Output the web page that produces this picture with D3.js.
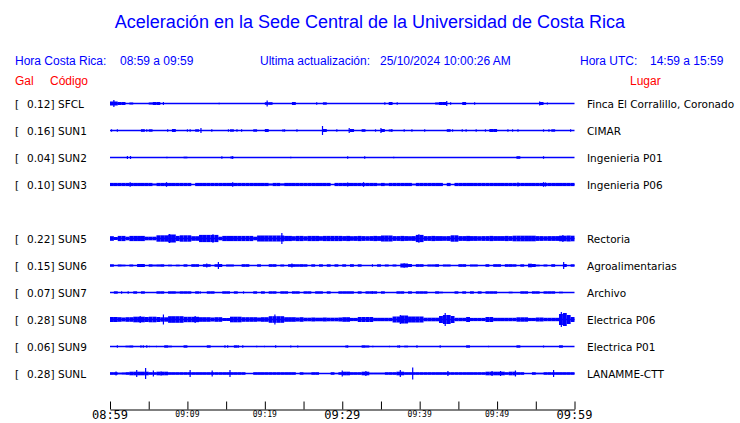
<!DOCTYPE html>
<html><head><meta charset="utf-8">
<script src="https://cdn.jsdelivr.net/npm/d3@7"></script>
<style>body{margin:0;background:#fff}svg{display:block}</style>
</head><body><svg id="c" width="740" height="423"></svg>
<script>
// ---- data ----
const codes  = ["SFCL","SUN1","SUN2","SUN3","SUN5","SUN6","SUN7","SUN8","SUN9","SUNL"];
const gal    = [0.12, 0.16, 0.04, 0.10, 0.22, 0.15, 0.07, 0.28, 0.06, 0.28];
const places = ["Finca El Corralillo, Coronado","CIMAR","Ingenieria P01","Ingenieria P06",
                "Rectoria","Agroalimentarias","Archivo","Electrica P06","Electrica P01","LANAMME-CTT"];
const rowSlot = [0,1,2,3,5,6,7,8,9,10];   // row 4 (SUN4) has no trace
const tickMinutes = [0,5,10,15,20,25,30,35,40,45,50,55,60];
const tickLabels  = ["08:59","","09:09","","09:19","","09:29","","09:39","","09:49","","09:59"];
const majorTicks  = [0,30,60];

// envelope half-amplitude per 30 s window (120 windows = 60 min)
const env_SFCL = [2,2,1.5,1.5,0,1,0,0,0,0, 1,1.5,1.5,0,0,0,0,0,0,0,
 0,0,0,0,0,0,0,0,0,0, 0,0,0,0,0,0,0,0,0,0,
 1.3,1.3,0,0,0,0,0,1.5,0,0, 0,0,0,0,0,1.2,0,0,0,0,
 0,0,0,0,0,0,0,0,0,0, 0,0,1.5,0,0,0,0,0,0,0,
 0,0,0,0,1,1.5,1.5,0,0,0, 0,1.5,0,0,0,0,0,0,0,0,
 0,0,0,0,0,0,0,0,0,0, 0,1.5,0,0,0,0,0,0,0,0];
const env_SUN1 = [0,0,0,0,0,0,0,0,1.3,0, 1.2,0,0,0,0,0,1.5,0,0,0,
 0,0,1.2,0,0,0,0,0,0,0, 0,1.2,0,0,0,0,0,1.2,0,0,
 1.5,0,0,0,0,0,0,0,0,0, 0,0,0,0,0,1.5,0,0,0,0,
 0,0,1.5,0,0,1.3,0,0,0,0, 1.5,0,1,0,0,0,0,0,0,0,
 0,0,0,0,0,0,0,1.3,0,0, 0,0,0,0,0,0,0,0,1.5,1.5,
 0,0,0,0,0,0,0,0,0,0, 0,0,0,0,1.2,0,0,0,0,0];
const env_SUN2 = [0,0,0,0,0,0,0,0,0,0, 0,0,0,0,0,0,0,0,0,0.8,
 0,0,0,0,0,0,0,0,0,0, 0,0,0,0,0,0,0,0,0,0,
 0,0,0,0,0,0,0,0,0,0, 0,0,0,0,0,0,0,0,0,0,
 0,0,0,0,0,0,0,0,0,0, 0,0,0,0,0,0,0,0,0,0,
 0,0,0,0,0,0,0,0,0,0, 0,0,0,0,0,0,0,0,0,0,
 0,0,0,0,0,1.3,0,0,0,0, 0,0,0,0,0,0,0,0,0,0];
const env_SUN3 = [1.6,1.6,1.6,1.6,1.6,1.6,1.6,1.6,1.6,1.6, 1.6,0.9,1.6,1.6,1.6,1.6,1.6,1.6,1.6,1.6,
 1.6,0,1.6,1.6,1.6,1.6,1.6,1.6,1.6,1.6, 1.6,1.6,1.6,1.6,1.6,1.6,1.6,1.6,1.6,1.6,
 1.6,1,1.6,1.6,1.1,1.6,1.6,1.6,1.6,1.6, 1.6,1.6,1.6,1.6,1.6,1.6,1.6,0,1.6,1.6,
 1.6,1.6,1.6,1.6,1.6,1.6,1.6,1.6,1.6,1.1, 1.6,1.1,1.6,1.6,1.6,1.6,1.6,1.6,0.8,1.6,
 1.6,1.6,1.6,1.6,1.6,1.6,0.5,1.6,0.5,1.6, 1.6,1.6,1.6,1.6,1.6,1.6,1.6,1.6,1.6,1.6,
 1.6,1.6,1.6,1.6,1.6,1.6,1.6,1.6,1.6,1.6, 1.6,1.6,1.6,1.6,1.6,1.6,1.6,1.6,1.6,1.6];
const env_SUN5 = [2.3,1.5,2.6,2.6,1.8,2.6,2.6,2.6,2.6,1.8, 1.8,1.8,3.2,3.2,3.2,4,4,2.6,3.2,3.2,
 3.2,2.3,2.3,3.6,3.6,3.6,3.6,3.6,1.8,2.6, 2.6,2.6,2.6,2.6,2.6,2.6,2.6,1.8,3,3,
 3,3,3,3,3,2.6,2.6,2.3,2.6,2.6, 2.3,2.6,2.6,2.6,2.3,2.6,2.6,2.6,2.6,2.6,
 2.4,2.6,2.3,2.4,2.6,2.4,2.3,2.4,2.6,2.4, 3,3,3,2.4,2.4,2.6,2.4,2.3,2.4,3.6,
 3.6,2.4,2.4,2.6,2.4,2.4,2.3,2.4,3.2,3.2, 2.4,2.4,2.6,2.4,2.4,2.3,2.4,2.4,2.6,2.4,
 2.4,2.4,2.6,2.4,2.8,2.8,2.8,2.8,2.8,2.8, 2.4,2.4,2.3,2.4,2.4,2.4,2.8,2.8,3,2.8];
const env_SUN6 = [1.2,0,1,0.8,0,1,0,1.5,1.5,0, 1.2,0.8,1,1.2,0,0.8,0,0.8,0,1.2,
 0,1.3,1.3,0,1.3,1.3,0,1.3,1.5,0, 1,1,0,0,1.3,1.3,0,0,1.2,0,
 0,1.3,1.3,0,1,0,1.3,1.3,1.2,1.3, 1.2,0,1.2,0,1.2,0,1.2,0,1.2,0,
 1.2,0,1.3,0,1.2,0,0,0,0,1.2, 0,1,0,1,0,2,2,1.5,0,1.3,
 1.3,0,1,1,1.3,0,1,1,0,0, 1.3,1.3,0,1,1,0,0,1.3,0,1.3,
 1.3,0,1.3,1.3,1.2,0,1.2,0,1.8,1.5, 0.8,0,1,0,1.3,0,0,1.5,0,1.2];
const env_SUN7 = [0,1.2,0,0,0,0,1.2,0,1.2,0, 0,0,1.2,1.2,0,1.2,1.2,0.8,1.2,1.2,
 1.2,0,1.2,0,0,1.2,1.2,0,0,1.2, 1.2,0,1.2,0,0,0,0,1.2,0,1.2,
 0,1.2,1.2,0,1.2,1.2,0,1.2,1.2,0, 1.2,1.2,0,1.2,1.2,0,1.2,0,0,1.2,
 1.2,1.2,1.2,0,1.2,0,1.2,1.2,1.2,0, 1.2,0,0,0,1.2,1.2,0,1.2,0,1.2,
 1.2,1.2,0,0,1.2,0.8,0,0,0,1.2, 0,1.2,0,1.2,0,1.2,0,1.2,1.2,1.2,
 0,0,0,0.8,0,0,1.2,1.2,0,1.2, 1.2,0,1.2,1.2,1.2,0,0.8,0,0,0];
const env_SUN8 = [2.5,2.5,2.3,2,2.3,2.3,2.8,2.8,2.8,2.5, 2.8,2.8,2.5,2.2,2.2,3.3,3.3,3.3,3.3,2.7,
 2.7,2.7,2.7,2.3,2.3,2.3,2,2.3,2.3,1.5, 1.5,2.8,2.8,2.8,2.3,2.3,2.3,2.3,2,2.3,
 2.3,3.3,3.3,3.3,3.3,2.3,2.3,2.3,2,2.3, 1.8,1.8,2,1.8,1.8,2,1.8,1.8,1.8,2,
 2.3,2.3,1.6,1.6,2.5,2.5,2.5,2.5,1.7,1.7, 1.7,1.7,1.7,3,3,4,4,3,3,3,
 3,1.8,1.8,1.8,1.8,3.5,4.5,4.5,3.5,1.7, 1.7,1.7,2.5,1.6,1.6,1.6,1.6,2.5,2.5,1.7,
 1.7,1.7,1.7,1.7,1.7,2.2,2.2,2.2,1.6,1.6, 2,2,1.7,1.7,1.7,1.7,5.5,6.5,4.5,2.5];
const env_SUN9 = [0,0,0,0,0.8,1,0,0,0,0, 0,0,0,0,1.2,0.8,0,0,0,1.2,
 0,0,0,0,0,1.2,0,0,0,0, 0,0,1.2,0,0,0,0,0,0,0,
 0,0,0,0,0,0,0,0,0,0, 0,0,0,0,0,0,0,0,0,0,
 0,0,0,0,0,1.2,1,0,0,0, 0,0,0,0,0,0,0.8,0,0,0,
 0,0,0,0,0,0,0,0,0,0, 0,0,1.2,0,0,0,0,0,0,0,
 0,0,0,0,0,1.2,0,0,0,0, 0,0,0,0,0,0,1.2,0,0,0];
const env_SUNL = [1.3,1.3,0.8,1,1.3,1.8,1.8,1.8,1.8,1.8, 1.3,1.3,1.8,1.8,1.8,1.3,1.3,1.3,1.3,1.3,
 1.3,1.3,1.3,1.3,1.3,1.3,1.3,1.3,1.3,1.3, 1.3,1.3,1.3,1.3,1.3,0.5,0.5,1.3,1.3,1.3,
 1.3,1.3,1.3,1.3,1.3,1.3,1.3,1.3,0.5,1.3, 0.8,0.8,1.3,1.3,0.5,0.5,0.5,1.3,0.6,1.3,
 1.8,1.8,1.3,1.3,1.3,1.8,1.8,0.8,0.8,0.8, 0.8,1.3,1.3,1.3,1.8,1.8,1.3,1.3,1.3,1.3,
 1.3,1.3,1.3,1.3,1.3,1.3,1.3,1.3,1.3,1.3, 1.3,1.3,1.3,1.3,1.3,1.3,1.3,1.8,1.8,1.8,
 1.8,1.8,1.3,1.8,1.8,1.3,1.3,0.5,0.5,1.3, 0.7,0.7,1.3,1.3,1.3,1.3,1.3,1.3,1.3,1.3];

// narrow peaks: [minute, half-amplitude]
const spk_SFCL = [[0.5,3.5],[6.9,1.5],[14.1,0.8],[20.3,3],[26.7,1.2],[35.5,1.2],[37.1,1.2],[43.5,2.5],[44,1.2],[47.1,1.2],[55.5,2],[56.5,1]];
const spk_SUN1 = [[0.2,1.2],[0.95,1.2],[4.75,1.2],[7.45,1.2],[10,1.2],[10.35,1.2],[11.75,2.5],[13.15,1.2],[15.3,1.2],[16.4,1.2],[17,1.2],[22.35,1.2],[22.55,1.2],[24.15,1.2],[27.45,4.5],[29.3,1.2],[30.9,2.5],[31.45,1.2],[34.3,1.2],[35,2.5],[36.4,1.2],[38,1.2],[39,1.2],[40.65,1.2],[44.25,1.2],[45.5,1.2],[46,1.2],[47.3,1.2],[48.5,1.2],[51.4,1.2],[52,1.2],[52.7,1.2],[56,1.2],[56.7,1.2],[59.5,1.2]];
const spk_SUN2 = [[2.25,1.5],[2.65,1.5],[7.35,0.8],[12.7,0.6],[14.45,1.3],[15.65,1.2],[15.85,1.5],[23.35,0.8],[30.7,1.3],[32.9,1.3],[36.65,0.8],[56,1.3]];
const spk_SUN3 = [[2.6,2.3],[7.3,2.3],[15.85,2.3],[30.7,2],[32.75,2.3],[52.7,2],[56,2.3],[56.25,2]];
const spk_SUN5 = [[7.7,4.5],[13.3,4.3],[22.2,5.5],[39.9,4.3],[58.5,3.5]];
const spk_SUN6 = [[12.5,2],[14,3.5],[23.5,2],[33.9,1.3],[38,2.3],[58.6,3.5]];
const spk_SUN7 = [[1.5,1.2],[2.35,1.2],[11.65,1.2],[17.25,1.2],[33.9,1.2]];
const spk_SUN8 = [[3.9,3.5],[6.9,5],[11,3.5],[21.3,5],[37.5,4.5],[43.3,6.5],[58.3,7.5]];
const spk_SUN9 = [[0.95,1.2],[4,1.2],[4.3,1.2],[4.75,1.2],[5.1,0.7],[6,0.7],[14.85,1.2],[15.2,1.2],[16.6,1.2],[17.15,1.2],[18.95,0.7],[19.95,0.7],[21.4,1.2],[23.35,0.9],[24.25,0.9],[30.5,1.2],[30.7,1.2],[33.95,0.7],[36.1,0.7],[37.2,1.2],[37.4,1.2],[39.65,1.2],[42.65,1.2],[48.9,0.7],[56,1]];
const spk_SUNL = [[0.78,2],[3.45,3.5],[4.6,5.5],[5.6,3],[6.6,2],[10.35,3.5],[13.2,3],[15.5,3.5],[30,3],[33.05,2.5],[37.5,3.5],[39.1,6],[43.65,2.5],[49.35,2.5],[50.45,2.5],[52.37,3],[57.3,3.5]];

const envs  = [env_SFCL,env_SUN1,env_SUN2,env_SUN3,env_SUN5,env_SUN6,env_SUN7,env_SUN8,env_SUN9,env_SUNL];
const spks  = [spk_SFCL,spk_SUN1,spk_SUN2,spk_SUN3,spk_SUN5,spk_SUN6,spk_SUN7,spk_SUN8,spk_SUN9,spk_SUNL];

// ---- drawing ----
const BLUE = "#0000ff", RED = "#ff0000";
const svg = d3.select("#c");
const x = d3.scaleLinear().domain([0,60]).range([110,574.5]);
const row = d3.scalePoint().domain(d3.range(11)).range([103.5,373.5]);
const amp = d3.scaleLinear().domain([0,1]).range([0,1]);
const WIN = 0.5; // minutes per envelope window

const sans = "'Liberation Sans', Arial, sans-serif";
const dv = "'DejaVu Sans', sans-serif";
const mono = "'DejaVu Sans Mono', monospace";

svg.append("text").attr("x",370).attr("y",28).attr("text-anchor","middle")
  .attr("font-family",sans).attr("font-size",18).attr("fill",BLUE)
  .text("Aceleración en la Sede Central de la Universidad de Costa Rica");

const header = [
  ["Hora Costa Rica:",15],["08:59 a 09:59",120],
  ["Ultima actualización:",260],["25/10/2024 10:00:26 AM",380],
  ["Hora UTC:",580],["14:59 a 15:59",650]];
svg.selectAll("text.hdr").data(header).join("text").attr("class","hdr")
  .attr("x",d=>d[1]).attr("y",65).attr("font-family",sans).attr("font-size",12)
  .attr("fill",BLUE).text(d=>d[0]);
const sub = [["Gal",15],["Código",50],["Lugar",630]];
svg.selectAll("text.sub").data(sub).join("text").attr("class","sub")
  .attr("x",d=>d[1]).attr("y",85).attr("font-family",sans).attr("font-size",12)
  .attr("fill",RED).text(d=>d[0]);

codes.forEach((code,i)=>{
  const cy = row(rowSlot[i]);
  const g = svg.append("g").attr("transform",`translate(0,${cy})`);
  g.append("text").attr("x",15).attr("y",4).attr("font-family",dv).attr("font-size",10.5).attr("fill","#000").text("[");
  g.append("text").attr("x",27).attr("y",4).attr("font-family",dv).attr("font-size",10.5).attr("fill","#000").text(gal[i].toFixed(2)+"]");
  g.append("text").attr("x",58).attr("y",4).attr("font-family",dv).attr("font-size",10.5).attr("fill","#000").text(code);
  g.append("text").attr("x",587).attr("y",4).attr("font-family",dv).attr("font-size",10.5).attr("fill","#000").text(places[i]);

  g.append("line").attr("x1",x(0)).attr("x2",x(60)).attr("y1",0).attr("y2",0)
    .attr("stroke",BLUE).attr("stroke-width",1.5);
  g.selectAll("rect.env").data(envs[i].map((v,j)=>({v,j})).filter(d=>d.v>0)).join("rect")
    .attr("class","env")
    .attr("x",d=>x(d.j*WIN)).attr("width",d=>x((d.j+1)*WIN)-x(d.j*WIN))
    .attr("y",d=>-amp(d.v)).attr("height",d=>2*amp(d.v)).attr("fill",BLUE);
  g.selectAll("line.spk").data(spks[i]).join("line").attr("class","spk")
    .attr("x1",d=>x(d[0])).attr("x2",d=>x(d[0])).attr("y1",d=>-amp(d[1])).attr("y2",d=>amp(d[1]))
    .attr("stroke",BLUE).attr("stroke-width",1.2);
});

// time axis
const axis = d3.axisBottom(x).tickValues(tickMinutes).tickSize(-8).tickSizeOuter(0).tickFormat("");
const ag = svg.append("g").attr("transform","translate(0,409.5)").call(axis);
ag.select(".domain").attr("stroke","#000");
ag.selectAll(".tick line").attr("stroke","#000");
svg.selectAll("text.tl").data(tickMinutes.map((m,k)=>({m,l:tickLabels[k]})).filter(d=>d.l)).join("text")
  .attr("class","tl").attr("x",d=>x(d.m)).attr("text-anchor","middle")
  .attr("y",d=>majorTicks.includes(d.m)?419:416.5)
  .attr("font-family",mono).attr("font-size",d=>majorTicks.includes(d.m)?12:8)
  .attr("fill","#000").text(d=>d.l);
</script></body></html>
